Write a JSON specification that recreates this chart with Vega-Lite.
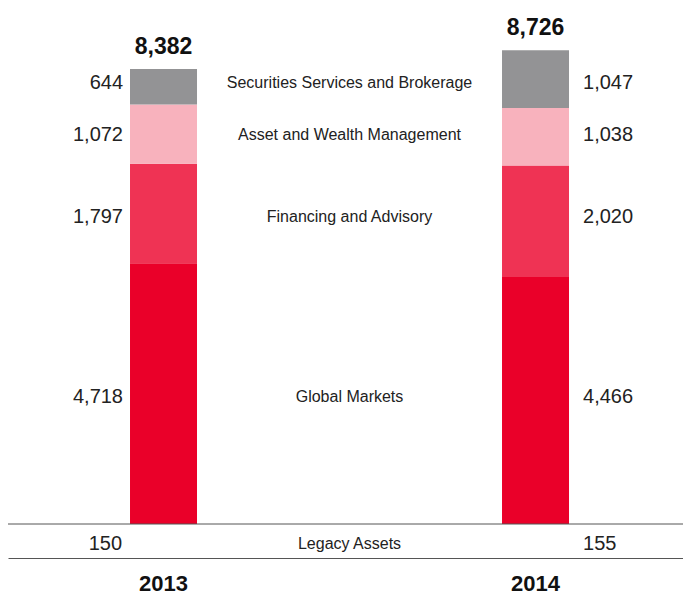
{
  "$schema": "https://vega.github.io/schema/vega-lite/v6.json",
  "width": 675,
  "height": 558,
  "autosize": {"type": "none"},
  "padding": {"left": 8, "top": 0, "right": 0, "bottom": 37},
  "background": "white",
  "config": {"view": {"stroke": null}, "font": "Liberation Sans"},
  "datasets": {
    "segments": [
      {"year": "2013", "segment": "Global Markets", "value": 4718},
      {"year": "2013", "segment": "Financing and Advisory", "value": 1797},
      {"year": "2013", "segment": "Asset and Wealth Management", "value": 1072},
      {"year": "2013", "segment": "Securities Services and Brokerage", "value": 644},
      {"year": "2014", "segment": "Global Markets", "value": 4466},
      {"year": "2014", "segment": "Financing and Advisory", "value": 2020},
      {"year": "2014", "segment": "Asset and Wealth Management", "value": 1038},
      {"year": "2014", "segment": "Securities Services and Brokerage", "value": 1047}
    ],
    "totals": [
      {"year": "2013", "total": 8382},
      {"year": "2014", "total": 8726}
    ],
    "legacy": [
      {"year": "2013", "segment": "Legacy Assets", "value": 150},
      {"year": "2014", "segment": "Legacy Assets", "value": 155}
    ]
  },
  "encoding": {
    "x": {
      "type": "nominal",
      "scale": {"domain": ["2013", "Segment", "2014"], "paddingInner": 0.6398, "paddingOuter": 0.6344, "align": 0.517},
      "axis": {
        "orient": "bottom", "title": null, "ticks": false, "tickSize": 0,
        "labelExpr": "datum.value == 'Segment' ? '' : datum.value",
        "labelFont": "Liberation Sans", "labelFontWeight": "bold", "labelFontSize": 22,
        "labelColor": "#111", "labelPadding": 15, "labelAngle": 0,
        "domainColor": "#555", "domainWidth": 1
      }
    }
  },
  "resolve": {"scale": {"x": "shared", "y": "shared"}},
  "layer": [
    {
      "data": {"name": "segments"},
      "transform": [
        {"calculate": "indexof(['Global Markets','Financing and Advisory','Asset and Wealth Management','Securities Services and Brokerage'], datum.segment)", "as": "ord"},
        {"stack": "value", "groupby": ["year"], "sort": [{"field": "ord", "order": "ascending"}], "as": ["y0", "y1"]}
      ],
      "mark": {"type": "bar"},
      "encoding": {
        "x": {"field": "year", "type": "nominal"},
        "y": {"field": "y1", "type": "quantitative", "scale": {"domain": [-615, 9479], "nice": false, "zero": false}, "axis": null},
        "y2": {"field": "y0"},
        "color": {
          "field": "segment", "type": "nominal",
          "scale": {
            "domain": ["Global Markets", "Financing and Advisory", "Asset and Wealth Management", "Securities Services and Brokerage"],
            "range": ["#ea0029", "#ef3354", "#f8b2bd", "#939395"]
          },
          "legend": null
        }
      }
    },
    {
      "data": {"values": [{}]},
      "mark": {"type": "rule", "color": "#555", "strokeWidth": 1},
      "encoding": {"y": {"datum": 0, "type": "quantitative"}}
    },
    {
      "data": {"name": "segments"},
      "transform": [
        {"calculate": "indexof(['Global Markets','Financing and Advisory','Asset and Wealth Management','Securities Services and Brokerage'], datum.segment)", "as": "ord"},
        {"stack": "value", "groupby": ["year"], "sort": [{"field": "ord", "order": "ascending"}], "as": ["y0", "y1"]},
        {"calculate": "(datum.y0 + datum.y1) / 2", "as": "mid"},
        {"joinaggregate": [{"op": "mean", "field": "mid", "as": "labelY"}], "groupby": ["segment"]}
      ],
      "layer": [
        {
          "transform": [{"filter": "datum.year == '2013'"}],
          "mark": {"type": "text", "align": "right", "baseline": "middle", "dx": -7, "fontSize": 20, "color": "#222"},
          "encoding": {
            "x": {"field": "year", "type": "nominal", "bandPosition": 0},
            "y": {"field": "labelY", "type": "quantitative"},
            "text": {"field": "value", "type": "quantitative", "format": ",d"}
          }
        },
        {
          "transform": [{"filter": "datum.year == '2014'"}],
          "mark": {"type": "text", "align": "left", "baseline": "middle", "dx": 14, "fontSize": 20, "color": "#222"},
          "encoding": {
            "x": {"field": "year", "type": "nominal", "bandPosition": 1},
            "y": {"field": "labelY", "type": "quantitative"},
            "text": {"field": "value", "type": "quantitative", "format": ",d"}
          }
        },
        {
          "transform": [{"filter": "datum.year == '2013'"}],
          "mark": {"type": "text", "align": "center", "baseline": "middle", "fontSize": 16, "color": "#222"},
          "encoding": {
            "x": {"datum": "Segment", "type": "nominal"},
            "y": {"field": "labelY", "type": "quantitative"},
            "text": {"field": "segment", "type": "nominal"}
          }
        }
      ]
    },
    {
      "data": {"name": "legacy"},
      "layer": [
        {
          "transform": [{"filter": "datum.year == '2013'"}],
          "mark": {"type": "text", "align": "right", "baseline": "middle", "dx": -8, "fontSize": 20, "color": "#222"},
          "encoding": {
            "x": {"field": "year", "type": "nominal", "bandPosition": 0},
            "y": {"datum": -362, "type": "quantitative"},
            "text": {"field": "value", "type": "quantitative", "format": ",d"}
          }
        },
        {
          "transform": [{"filter": "datum.year == '2014'"}],
          "mark": {"type": "text", "align": "left", "baseline": "middle", "dx": 14, "fontSize": 20, "color": "#222"},
          "encoding": {
            "x": {"field": "year", "type": "nominal", "bandPosition": 1},
            "y": {"datum": -362, "type": "quantitative"},
            "text": {"field": "value", "type": "quantitative", "format": ",d"}
          }
        },
        {
          "transform": [{"filter": "datum.year == '2013'"}],
          "mark": {"type": "text", "align": "center", "baseline": "middle", "fontSize": 16, "color": "#222"},
          "encoding": {
            "x": {"datum": "Segment", "type": "nominal"},
            "y": {"datum": -362, "type": "quantitative"},
            "text": {"field": "segment", "type": "nominal"}
          }
        }
      ]
    },
    {
      "data": {"name": "totals"},
      "mark": {"type": "text", "align": "center", "baseline": "alphabetic", "dy": -7, "fontSize": 23, "fontWeight": "bold", "color": "#111"},
      "encoding": {
        "x": {"field": "year", "type": "nominal"},
        "y": {"field": "total", "type": "quantitative"},
        "text": {"field": "total", "type": "quantitative", "format": ",d"}
      }
    }
  ]
}
